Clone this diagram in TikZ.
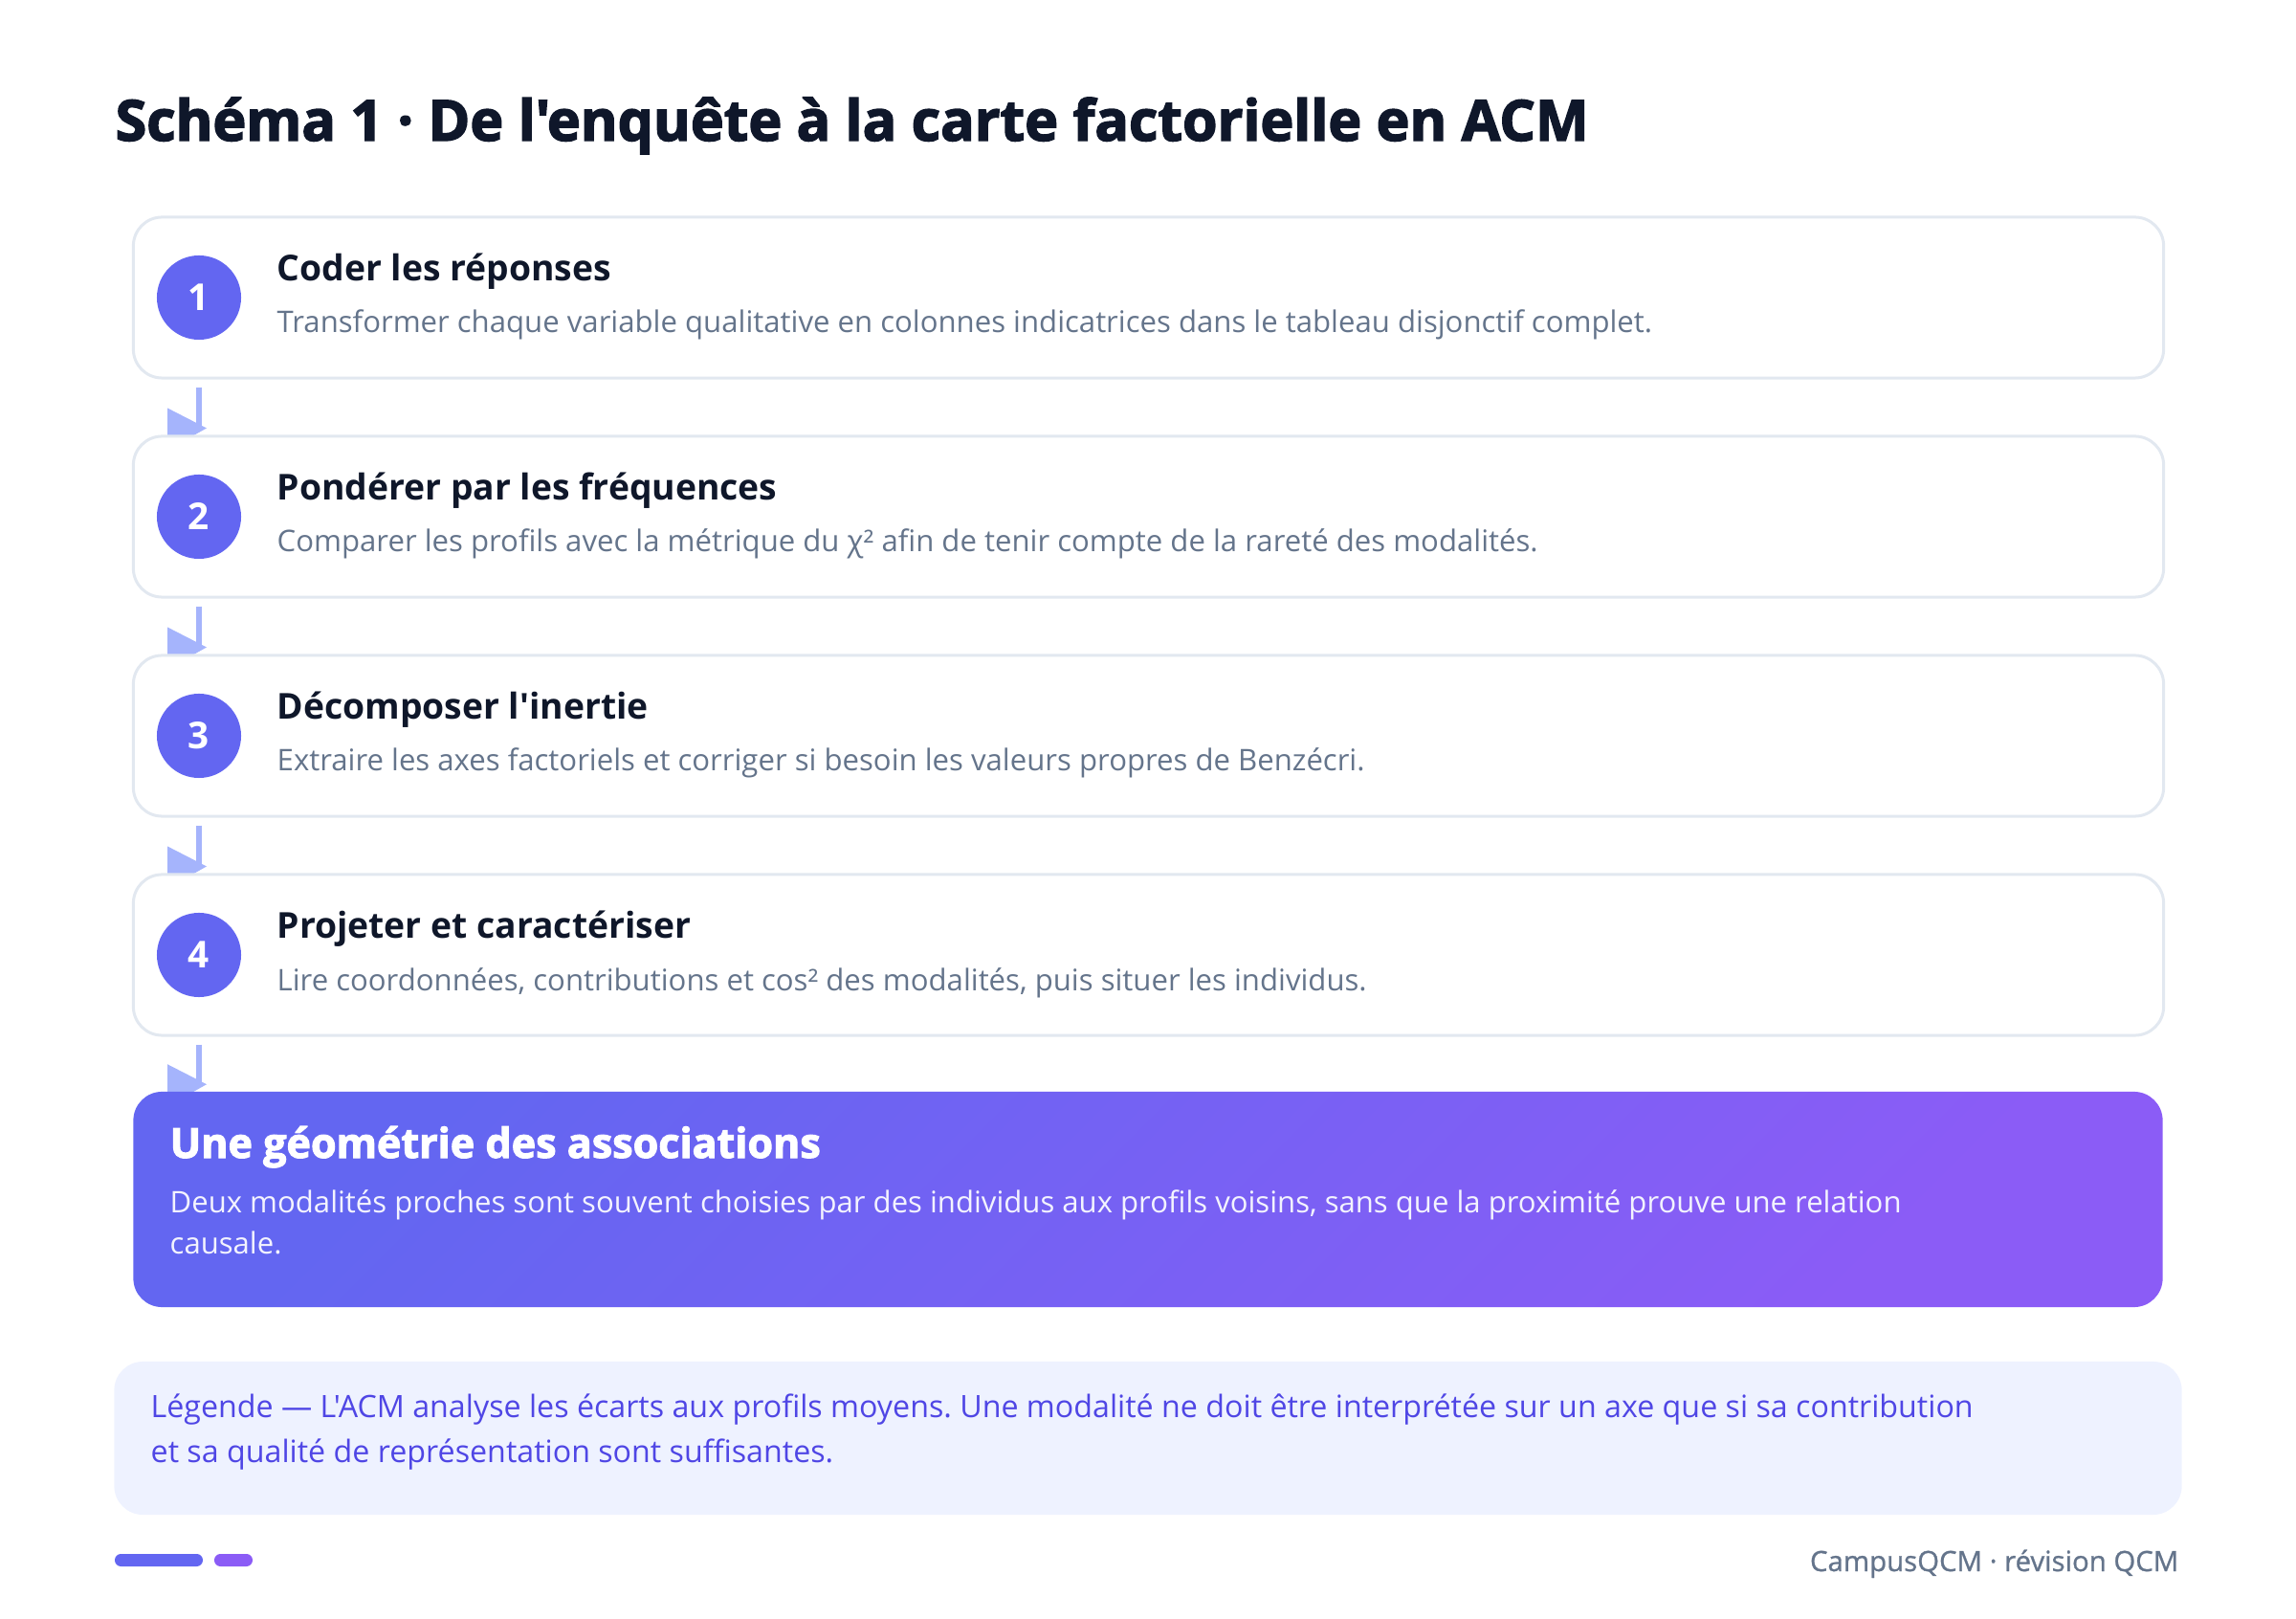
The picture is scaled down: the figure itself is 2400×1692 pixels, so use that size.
\documentclass[tikz,border=0pt]{standalone}
\usepackage{fontspec}
\setmainfont{Open Sans}[Ligatures=TeXOff]
\newfontfamily\heavyfont{Open Sans}[Ligatures=TeXOff, BoldFeatures={FakeBold=2.5}]
\newfontfamily\semifont{Open Sans}[Ligatures=TeXOff, FakeBold=0.9]
\usepackage{tikz}
\usetikzlibrary{positioning,calc,backgrounds}
\frenchspacing

\definecolor{acmInk}{HTML}{0F172A}
\definecolor{acmSlate}{HTML}{64748B}
\definecolor{acmRim}{HTML}{E2E8F0}
\definecolor{acmIndigo}{HTML}{6366F1}
\definecolor{acmViolet}{HTML}{8B5CF6}
\definecolor{acmLink}{HTML}{A5B4FC}
\definecolor{acmLegendBg}{HTML}{EEF2FF}
\definecolor{acmLegendInk}{HTML}{4F46E5}

\tikzset{
	stepbox/.style={draw=acmRim, line width=0.03cm, fill=white, rounded corners=0.3cm,
		minimum width=21.21cm, minimum height=1.68cm, inner sep=0pt},
	stepnum/.style={circle, fill=acmIndigo, text=white, minimum size=0.88cm, inner sep=0pt,
		font=\bfseries\fontsize{11}{13}\selectfont},
	steptitle/.style={anchor=base west, inner sep=0pt, text=acmInk,
		font=\bfseries\fontsize{10.6}{12}\selectfont},
	stepdesc/.style={anchor=base west, inner sep=0pt, text=acmSlate,
		font=\fontsize{8.85}{10}\selectfont},
	synthbox/.style={rounded corners=0.3cm, minimum width=21.2cm, minimum height=2.25cm,
		left color=acmIndigo, right color=acmViolet, shading angle=45, inner sep=0pt},
	legendbox/.style={fill=acmLegendBg, rounded corners=0.3cm, minimum width=21.6cm,
		minimum height=1.6cm, inner sep=0pt},
	link/.style={draw=acmLink, line width=0.06cm},
	linktip/.style={fill=acmLink},
}

\begin{document}
\begin{tikzpicture}[x=0.01cm, y=-0.01cm]

	\useasboundingbox (0,0) rectangle (2400,1692);

	\node[anchor=base west, inner sep=0pt, text=acmInk,
		font=\heavyfont\bfseries\fontsize{16.8}{19}\selectfont] (title) at (120,147)
		{Schéma 1 · De l'enquête à la carte factorielle en ACM};

	% the four steps
	\foreach \n/\ttl/\dsc in {
		1/{Coder les réponses}/{Transformer chaque variable qualitative en colonnes indicatrices dans le tableau disjonctif complet.},
		2/{Pondérer par les fréquences}/{Comparer les profils avec la métrique du χ² afin de tenir compte de la rareté des modalités.},
		3/{Décomposer l'inertie}/{Extraire les axes factoriels et corriger si besoin les valeurs propres de Benzécri.},
		4/{Projeter et caractériser}/{Lire coordonnées, contributions et cos² des modalités, puis situer les individus.}
	} {
		\pgfmathsetmacro\yc{311+229*(\n-1)}
		\node[stepbox] (s\n) at (1200.5,\yc) {};
		\node[stepnum] (c\n) at (208,\yc) {\n};
		\node[steptitle] (t\n) at (289,\yc-17) {\ttl};
		\node[stepdesc] (d\n) at (289,\yc+37) {\dsc};
	}

	\node[synthbox] (s5) at (1200,1253.5) {};
	\node[anchor=base west, inner sep=0pt, text=white,
		font=\heavyfont\bfseries\fontsize{12.25}{14}\selectfont] (synthtitle) at (177,1210)
		{Une géométrie des associations};
	% base of a two-line node sits on its last line
	\node[anchor=base west, inner sep=0pt, align=left, text=white!92!acmIndigo,
		font=\fontsize{8.84}{12.2}\selectfont] (synthdesc) at (177,1310)
		{Deux modalités proches sont souvent choisies par des individus aux profils voisins, sans que la proximité prouve une relation\\causale.};

	% connectors under the boxes
	\begin{scope}[on background layer]
		\foreach \i [count=\j from 2] in {1,...,4} {
			\draw[link] ($(c\i |- s\i.south)+(0,8)$) -- ($(c\i |- s\j.north)+(0,-7)$) coordinate (e\i);
			\fill[linktip] (e\i) ++(-33,-21) -- ++(41,21) -- ++(-41,23) -- cycle;
		}
	\end{scope}

	\node[legendbox] (legend) at (1200,1503) {};
	\node[anchor=base west, inner sep=0pt, align=left, text=acmLegendInk,
		font=\fontsize{9.16}{13.1}\selectfont] (legendtext) at (157,1528)
		{Légende — L'ACM analyse les écarts aux profils moyens. Une modalité ne doit être interprétée sur un axe que si sa contribution\\et sa qualité de représentation sont suffisantes.};

	\fill[acmIndigo, rounded corners=0.064cm] (120,1624) rectangle (212,1637);
	\fill[acmViolet, rounded corners=0.064cm] (224,1624) rectangle (264,1637);
	\node[anchor=base east, inner sep=0pt, text=acmSlate,
		font=\semifont\fontsize{8.35}{10}\selectfont] (footer) at (2278,1642)
		{CampusQCM · révision QCM};

\end{tikzpicture}
\end{document}
